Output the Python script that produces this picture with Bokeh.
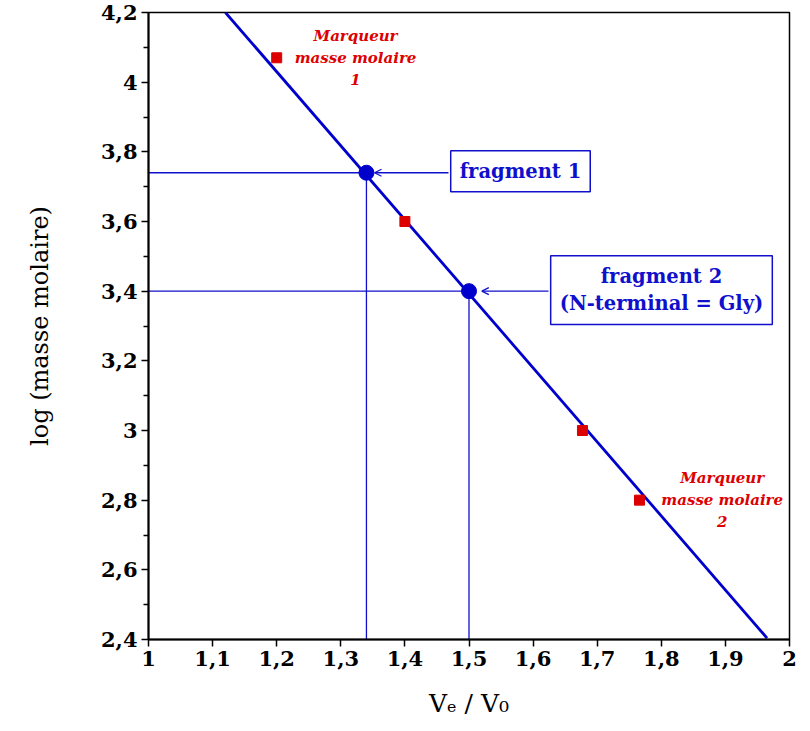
from bokeh.plotting import figure
from bokeh.models import Label, Arrow, OpenHead, FixedTicker, Range1d
from bokeh.core.properties import value
from bokeh.embed import file_html
from bokeh.resources import INLINE

# ---- data ----
x_ticks = [1.0, 1.1, 1.2, 1.3, 1.4, 1.5, 1.6, 1.7, 1.8, 1.9, 2.0]
x_tick_labels = ["1", "1,1", "1,2", "1,3", "1,4", "1,5", "1,6", "1,7", "1,8", "1,9", "2"]
y_ticks = [2.4, 2.6, 2.8, 3.0, 3.2, 3.4, 3.6, 3.8, 4.0, 4.2]
y_tick_labels = ["2,4", "2,6", "2,8", "3", "3,2", "3,4", "3,6", "3,8", "4", "4,2"]

line_x = [1.12, 1.965]
line_y = [4.2, 2.404]

marker_x = [1.2, 1.4, 1.677, 1.766]
marker_y = [4.07, 3.6, 3.0, 2.8]

frag_x = [1.34, 1.5]
frag_y = [3.74, 3.4]
frag_labels = ["fragment 1", "fragment 2\n(N-terminal = Gly)"]

SERIF = "DejaVu Serif"
BLUE = "#1010cc"
RED = "#dd0000"

p = figure(width=803, height=720, output_backend="svg", toolbar_location=None,
           x_range=Range1d(1, 2), y_range=Range1d(2.4, 4.2),
           min_border_left=148, min_border_right=14, min_border_top=12, min_border_bottom=80)
p.grid.visible = False
p.outline_line_color = "black"
p.outline_line_width = 1.5
p.background_fill_color = "white"
p.border_fill_color = "white"

# axes
p.xaxis.ticker = FixedTicker(ticks=x_ticks)
p.xaxis.major_label_overrides = {t: l for t, l in zip(x_ticks, x_tick_labels)}
p.yaxis.ticker = FixedTicker(ticks=y_ticks,
                             minor_ticks=[round(a + 0.1, 1) for a in y_ticks[:-1]])
p.yaxis.major_label_overrides = {t: l for t, l in zip(y_ticks, y_tick_labels)}
for ax in (p.xaxis[0], p.yaxis[0]):
    ax.axis_line_width = 2
    ax.axis_line_color = "black"
    ax.major_tick_line_width = 1.5
    ax.major_tick_line_color = "black"
    ax.major_tick_out = 7
    ax.major_tick_in = 0
    ax.major_label_text_font = SERIF
    ax.major_label_text_font_style = "bold"
    ax.major_label_text_font_size = "21px"
    ax.major_label_text_color = "black"
    ax.axis_label_text_font = SERIF
    ax.axis_label_text_font_style = "normal"
    ax.axis_label_text_font_size = "24px"
    ax.axis_label_text_color = "black"
p.xaxis.minor_tick_line_color = None
p.yaxis.minor_tick_out = 5
p.yaxis.minor_tick_in = 0
p.yaxis.minor_tick_line_color = "black"
p.yaxis.minor_tick_line_width = 1.5
p.xaxis.major_label_standoff = 4
p.yaxis.major_label_standoff = 4

p.yaxis.axis_label = "log (masse molaire)"
p.yaxis.axis_label_standoff = 44
p.xaxis.axis_label = "Vₑ / V₀"
p.xaxis.axis_label_standoff = 20
p.xaxis.axis_label_text_font_size = "25px"

# reference lines for fragments
for fx, fy in zip(frag_x, frag_y):
    p.line([1.0, fx], [fy, fy], line_color=BLUE, line_width=1.3)
    p.line([fx, fx], [fy, 2.4], line_color=BLUE, line_width=1.3)

# calibration line
p.line(line_x, line_y, line_color="#0000cc", line_width=2.8)

# markers
p.scatter(marker_x, marker_y, marker="square", size=10, fill_color=RED, line_color=RED)

# fragments
p.scatter(frag_x, frag_y, marker="circle", size=15, fill_color="#0000cc", line_color="#0000cc")

# boxes with arrows
box_cx = [1.5803, 1.8003]
box_cy = [3.744, 3.403]
arrow_start = [1.468, 1.624]
arrow_end = [1.3526, 1.52]
for lab, cx, cy, xs, xe, fy in zip(frag_labels, box_cx, box_cy, arrow_start, arrow_end, frag_y):
    p.add_layout(Label(x=cx, y=cy, text=lab, text_align="center", text_baseline="middle",
                       text_font=SERIF, text_font_style="bold", text_font_size="19.5px",
                       text_color=BLUE, border_line_color=BLUE, border_line_width=1.5,
                       background_fill_color="white", padding=9, text_line_height=1.2))
    p.add_layout(Arrow(x_start=xs, y_start=fy, x_end=xe, y_end=fy,
                       line_color=BLUE, line_width=1.3,
                       end=OpenHead(size=7, line_color=BLUE, line_width=1.3)))

# marker texts
p.text(x=[1.323, 1.895], y=[4.07, 2.8],
       text=["Marqueur\nmasse molaire\n1", "Marqueur\nmasse molaire\n2"],
       text_align="center", text_baseline="middle",
       text_font=value(SERIF), text_font_style="bold italic", text_font_size="15px",
       text_color=RED, text_line_height=1.22)

open("out.html", "w").write(file_html(p, INLINE))
